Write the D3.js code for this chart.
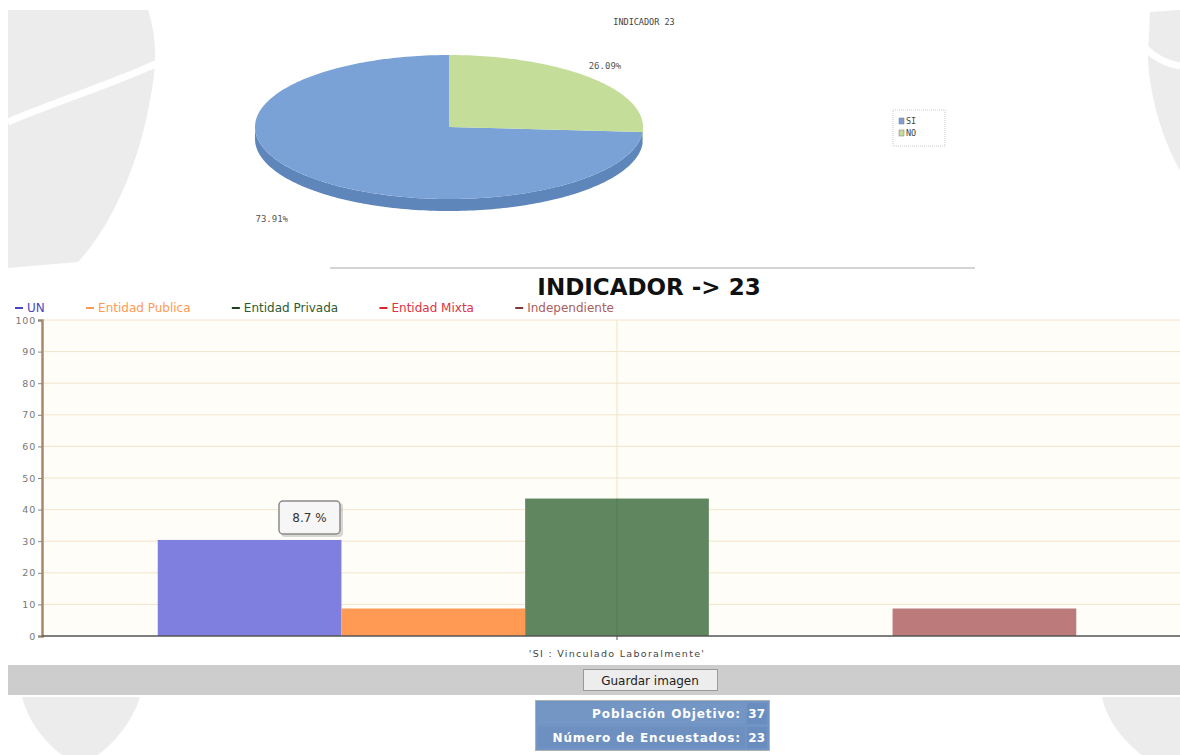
<!DOCTYPE html>
<html><head><meta charset="utf-8">
<script src="https://cdn.jsdelivr.net/npm/d3@7"></script>
<style>body{margin:0;background:#fff}svg{display:block}</style>
</head><body>
<svg id="c" width="1180" height="755"></svg>
<script>
// ---------- data ----------
const pieTitle = "INDICADOR 23";
const pieCategories = ["SI", "NO"];
const pieValues = [73.91, 26.09];
const pieColors = ["#7aa2d6", "#c4dd98"];
const pieSideColors = ["#5f86bb", "#a9c47c"];

const barTitle = "INDICADOR -> 23";
const barCategories = ["'SI : Vinculado Laboralmente'"];
const seriesNames = ["UN", "Entidad Publica", "Entidad Privada", "Entidad Mixta", "Independiente"];
const seriesValues = [30.4, 8.7, 43.5, 0, 8.7];
const seriesColors = ["#7f7fe0", "#ff9a55", "#5f865f", "#e04048", "#bd7a7a"];
const legendTextColors = ["#4646c0", "#ff9a55", "#2f5a2f", "#dd3344", "#a86060"];
const legendDashColors = ["#4646c0", "#ff9a55", "#1f3f1f", "#dd2233", "#7a3a3a"];
const yTicks = [0, 10, 20, 30, 40, 50, 60, 70, 80, 90, 100];
const tooltipText = "8.7 %";
const buttonText = "Guardar imagen";
const summaryLabels = ["Población Objetivo:", "Número de Encuestados:"];
const summaryValues = [37, 23];

// ---------- setup ----------
const svg = d3.select("#c");
const W = 1180, H = 755;

// watermark shapes (faint background)
const wm = svg.append("g").attr("fill", "#ececec");
wm.append("path").attr("d", "M8,10 L148,10 C158,40 156,70 150,100 C138,170 108,230 78,262 L8,268 Z");
wm.append("path").attr("d", "M1150,12 L1180,10 L1180,170 C1162,140 1148,90 1148,55 Z");
wm.append("path").attr("d", "M22,697 L140,697 C132,722 115,742 98,755 L62,755 C42,740 28,720 22,697 Z");
wm.append("path").attr("d", "M1102,697 L1180,697 L1180,755 L1142,755 C1122,740 1107,720 1102,697 Z");
const wmw = svg.append("g").attr("stroke", "#fff").attr("stroke-width", 7).attr("fill", "none");
wmw.append("path").attr("d", "M8,122 C60,100 110,85 160,62");
wmw.append("path").attr("d", "M1145,48 C1155,58 1168,64 1180,66");

// ---------- pie (3D) ----------
const pcx = 449, pcy = 127, prx = 194, pry = 72, depth = 12;
const proj = (a, k = 1) => [pcx + prx * k * Math.sin(a), pcy - pry * k * Math.cos(a)];
const total = d3.sum(pieValues);
const a0 = 2 * Math.PI * pieValues[1] / total;
const pie = d3.pie().sort(null).startAngle(a0).endAngle(a0 + 2 * Math.PI);
const arcs = pie(pieValues);

function arcPts(s, e, dy = 0) {
  const n = Math.max(2, Math.ceil((e - s) / 0.02));
  const pts = [];
  for (let i = 0; i <= n; i++) { const a = s + (e - s) * i / n; const p = proj(a); pts.push([p[0], p[1] + dy]); }
  return pts;
}
const pg = svg.append("g");
arcs.forEach((d, i) => {
  [0, 2 * Math.PI].forEach(k => {
    const lo = Math.max(d.startAngle, Math.PI / 2 + k), hi = Math.min(d.endAngle, 3 * Math.PI / 2 + k);
    if (hi > lo) {
      const top = arcPts(lo, hi, 0), bot = arcPts(lo, hi, depth).reverse();
      pg.append("path").attr("d", "M" + top.concat(bot).map(p => p.join(",")).join("L") + "Z")
        .attr("fill", pieSideColors[i]);
    }
  });
});
arcs.forEach((d, i) => {
  const pts = [[pcx, pcy]].concat(arcPts(d.startAngle, d.endAngle));
  pg.append("path").attr("d", "M" + pts.map(p => p.join(",")).join("L") + "Z").attr("fill", pieColors[i]);
});
arcs.forEach((d, i) => {
  const m = (d.startAngle + d.endAngle) / 2;
  const down = Math.cos(m) < 0;
  const p = proj(m, down ? 1.25 : 1.1);
  pg.append("text").attr("x", p[0]).attr("y", p[1] + (down ? depth + 22 : -4))
    .attr("text-anchor", "middle").attr("font-family", "DejaVu Sans Mono").attr("font-size", 9).attr("fill", "#555")
    .text(d3.format(".2f")(d.data / total * 100) + "%");
});
svg.append("text").attr("x", 644).attr("y", 25).attr("text-anchor", "middle")
  .attr("font-family", "DejaVu Sans Mono").attr("font-size", 8.5).attr("fill", "#444").text(pieTitle);
const pl = svg.append("g").attr("transform", "translate(893,110)");
pl.append("rect").attr("width", 52).attr("height", 36).attr("fill", "#fff").attr("stroke", "#ccc").attr("stroke-dasharray", "1,1");
pieCategories.forEach((c, i) => {
  pl.append("rect").attr("x", 6).attr("y", 8 + i * 12).attr("width", 5).attr("height", 6).attr("fill", pieColors[i]).attr("stroke", "#777").attr("stroke-width", 0.5);
  pl.append("text").attr("x", 13).attr("y", 14 + i * 12).attr("font-family", "DejaVu Sans Mono").attr("font-size", 8.5).attr("fill", "#444").text(c);
});

svg.append("line").attr("x1", 330).attr("x2", 975).attr("y1", 268).attr("y2", 268).attr("stroke", "#d4d4d4").attr("stroke-width", 2);

// ---------- bar chart ----------
const plotL = 42, plotR = 1180, plotT = 320, plotB = 636;
const x0 = d3.scaleBand().domain(barCategories).range([plotL, 1192]).paddingOuter(0.126).paddingInner(0);
const x1 = d3.scaleBand().domain(seriesNames).range([0, x0.bandwidth()]);
const y = d3.scaleLinear().domain([0, 100]).range([plotB, plotT]);

svg.append("rect").attr("x", plotL).attr("y", plotT).attr("width", plotR - plotL).attr("height", plotB - plotT).attr("fill", "#fffdf7");
svg.append("g").selectAll("line").data(yTicks.filter(t => t > 0)).join("line")
  .attr("x1", plotL).attr("x2", plotR).attr("y1", d => y(d)).attr("y2", d => y(d))
  .attr("stroke", "#f3e4cc").attr("stroke-width", 1);
svg.append("g").selectAll("line").data(barCategories).join("line")
  .attr("x1", d => x0(d) + x0.bandwidth() / 2).attr("x2", d => x0(d) + x0.bandwidth() / 2)
  .attr("y1", plotT).attr("y2", plotB).attr("stroke", "#f1e4bd").attr("stroke-width", 1);

const bg = svg.append("g");
barCategories.forEach(cat => {
  bg.selectAll(null).data(seriesValues.map((v, i) => ({ v, i }))).join("rect")
    .attr("x", d => x0(cat) + x1(seriesNames[d.i]))
    .attr("width", x1.bandwidth())
    .attr("y", d => y(d.v)).attr("height", d => y(0) - y(d.v))
    .attr("fill", d => seriesColors[d.i]);
  // faint grid line seen through the bar at the category centre
  const cx = x0(cat) + x0.bandwidth() / 2;
  const hit = seriesNames.findIndex(n => cx >= x0(cat) + x1(n) && cx < x0(cat) + x1(n) + x1.bandwidth());
  if (hit >= 0) {
    bg.append("line").attr("x1", cx).attr("x2", cx).attr("y1", y(seriesValues[hit])).attr("y2", plotB)
      .attr("stroke", "#3f5f3f").attr("stroke-opacity", 0.3);
  }
});

const ya = svg.append("g").attr("transform", `translate(${plotL},0)`)
  .call(d3.axisLeft(y).tickValues(yTicks).tickSize(4).tickPadding(2));
ya.select(".domain").attr("stroke", "#a88a6a").attr("stroke-width", 2.5);
ya.selectAll(".tick line").attr("stroke", "#888");
ya.selectAll(".tick text").attr("font-family", "DejaVu Sans").attr("font-size", 9.5).attr("letter-spacing", 0.8).attr("fill", "#777");

svg.append("line").attr("x1", plotL).attr("x2", plotR).attr("y1", plotB).attr("y2", plotB).attr("stroke", "#555").attr("stroke-width", 1.5);
const xa = svg.append("g").attr("transform", `translate(0,${plotB})`)
  .call(d3.axisBottom(x0).tickSize(4).tickPadding(10));
xa.select(".domain").remove();
xa.selectAll(".tick line").attr("stroke", "#555");
xa.selectAll(".tick text").attr("font-family", "DejaVu Sans").attr("font-size", 9.5).attr("letter-spacing", 1.3).attr("fill", "#444");

svg.append("text").attr("x", 649).attr("y", 295).attr("text-anchor", "middle")
  .attr("font-family", "DejaVu Sans").attr("font-weight", "bold").attr("font-size", 23).attr("fill", "#111").text(barTitle);

// legend
const lg = svg.append("g").attr("font-family", "DejaVu Sans").attr("font-size", 12);
const items = seriesNames.map((n, i) => {
  const g = lg.append("g");
  g.append("line").attr("x1", 0).attr("x2", 8).attr("y1", -4).attr("y2", -4).attr("stroke", legendDashColors[i]).attr("stroke-width", 2);
  const t = g.append("text").attr("x", 12).attr("y", 0).attr("fill", legendTextColors[i]).text(n);
  return { g, w: 12 + t.node().getComputedTextLength() };
});
const lgStart = 15, lgEnd = 614;
const gap = (lgEnd - lgStart - d3.sum(items, d => d.w)) / (items.length - 1);
let lx = lgStart;
items.forEach(it => { it.g.attr("transform", `translate(${lx},312)`); lx += it.w + gap; });

// tooltip
const tt = svg.append("g").attr("transform", "translate(279,501)");
tt.append("rect").attr("x", 2).attr("y", 2).attr("width", 62).attr("height", 34).attr("rx", 4).attr("fill", "#000").attr("opacity", 0.15);
tt.append("rect").attr("width", 61).attr("height", 33).attr("rx", 4).attr("fill", "#f6f6f6").attr("stroke", "#8a8a8a").attr("stroke-width", 1.5);
tt.append("text").attr("x", 30.5).attr("y", 21).attr("text-anchor", "middle").attr("font-family", "DejaVu Sans").attr("font-size", 12).attr("fill", "#333").text(tooltipText);

// ---------- bottom controls ----------
svg.append("rect").attr("x", 8).attr("y", 665).attr("width", W - 8).attr("height", 30).attr("fill", "#cdcdcd");
svg.append("rect").attr("x", 583.5).attr("y", 669.5).attr("width", 134).attr("height", 21).attr("fill", "#ededed").attr("stroke", "#9a9a9a");
svg.append("text").attr("x", 650).attr("y", 684.5).attr("text-anchor", "middle").attr("font-family", "DejaVu Sans").attr("font-size", 12).attr("fill", "#222").text(buttonText);

const sb = svg.append("g");
sb.append("rect").attr("x", 535.5).attr("y", 700.5).attr("width", 234).attr("height", 50).attr("fill", "#7094c4").attr("stroke", "#b0b0b0");
sb.append("rect").attr("x", 538).attr("y", 703).attr("width", 207).attr("height", 21).attr("fill", "#7396c5");
sb.append("rect").attr("x", 538).attr("y", 727).attr("width", 207).attr("height", 21).attr("fill", "#6d90c0");
sb.append("rect").attr("x", 747).attr("y", 703).attr("width", 20).attr("height", 21).attr("fill", "#6a8dbf");
sb.append("rect").attr("x", 747).attr("y", 727).attr("width", 20).attr("height", 21).attr("fill", "#6a8dbf");
summaryLabels.forEach((l, i) => {
  sb.append("text").attr("x", 741).attr("y", 718 + i * 24).attr("text-anchor", "end").attr("font-family", "DejaVu Sans").attr("font-weight", "bold").attr("font-size", 12).attr("letter-spacing", 0.9).attr("fill", "#fff").text(l);
  sb.append("text").attr("x", 765).attr("y", 718 + i * 24).attr("text-anchor", "end").attr("font-family", "DejaVu Sans").attr("font-weight", "bold").attr("font-size", 12).attr("fill", "#fff").text(summaryValues[i]);
});
</script>
</body></html>
